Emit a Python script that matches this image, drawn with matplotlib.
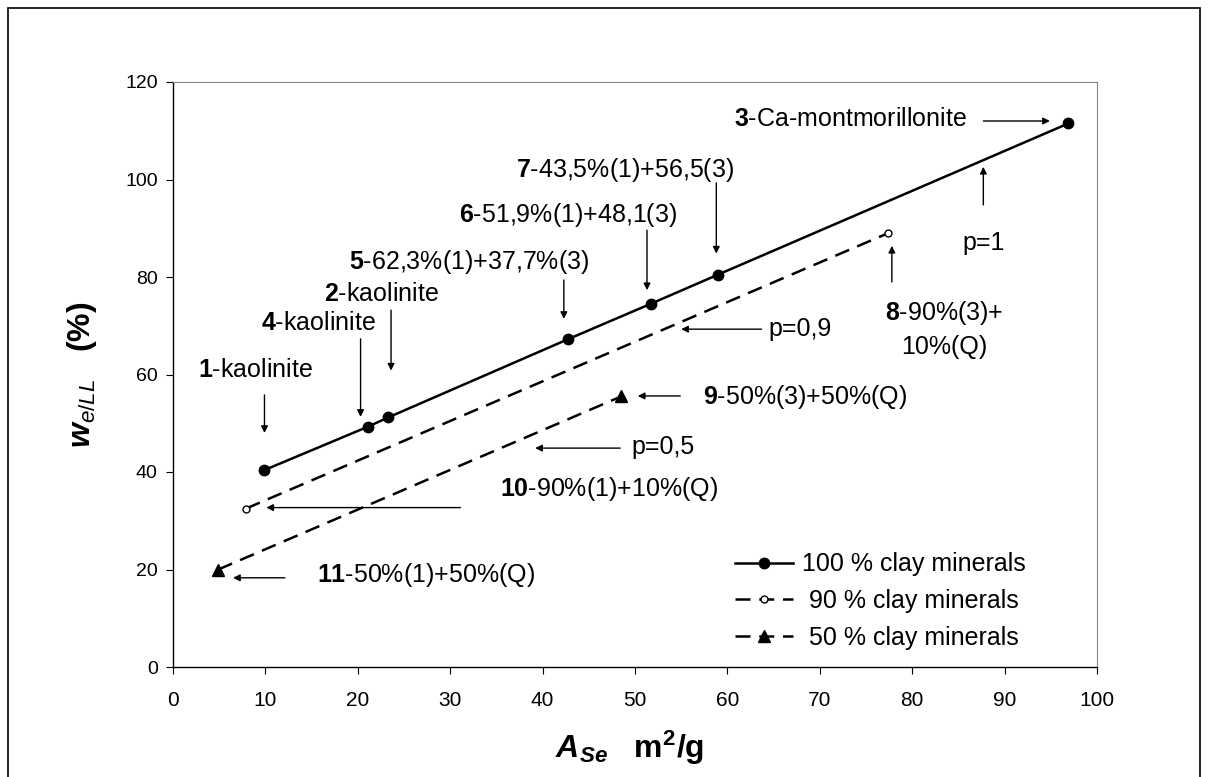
import matplotlib
matplotlib.use("Agg")
import matplotlib.pyplot as plt
from matplotlib.patches import Rectangle

plt.rcParams["font.family"] = ["Liberation Sans", "DejaVu Sans"]
plt.rcParams["mathtext.fontset"] = "custom"
plt.rcParams["mathtext.rm"] = "Liberation Sans"
plt.rcParams["mathtext.it"] = "Liberation Sans:italic"
plt.rcParams["mathtext.bf"] = "Liberation Sans:bold"
plt.rcParams["mathtext.bfit"] = "Liberation Sans:italic:bold"

# data
x_100 = [9.9, 21.1, 23.3, 42.7, 51.7, 59.0, 96.9]
y_100 = [40.4, 49.3, 51.2, 67.2, 74.5, 80.5, 111.5]
x_90 = [7.9, 77.4]
y_90 = [32.5, 89.0]
x_50 = [4.9, 48.5]
y_50 = [20.0, 55.5]
series_labels = ["100 % clay minerals", " 90 % clay minerals", " 50 % clay minerals"]

# annotation texts: (label, text x, text y, arrow start, arrow end)
notes = [
    (r"$\mathbf{1}$-kaolinite", 8.9, 60.9, (9.9, 55.8), (9.9, 48.0)),
    (r"$\mathbf{4}$-kaolinite", 15.7, 70.6, (20.3, 67.3), (20.3, 51.3)),
    (r"$\mathbf{2}$-kaolinite", 22.6, 76.5, (23.6, 73.2), (23.6, 60.8)),
    (r"$\mathbf{5}$-62,3%(1)+37,7%(3)", 32.1, 83.1, (42.3, 79.4), (42.3, 71.4)),
    (r"$\mathbf{6}$-51,9%(1)+48,1(3)", 42.7, 92.7, (51.3, 89.6), (51.3, 77.3)),
    (r"$\mathbf{7}$-43,5%(1)+56,5(3)", 48.9, 101.9, (58.8, 99.3), (58.8, 84.8)),
    (r"$\mathbf{3}$-Ca-montmorillonite", 73.3, 112.4, (87.7, 112.0), (94.9, 112.0)),
    ("p=1", 87.7, 87.0, (87.7, 94.8), (87.7, 102.6)),
    (r"$\mathbf{8}$-90%(3)+" + "\n" + "10%(Q)", 83.5, 69.3, (77.8, 79.0), (77.8, 86.4)),
    ("p=0,9", 67.9, 69.3, (63.7, 69.3), (55.0, 69.3)),
    (r"$\mathbf{9}$-50%(3)+50%(Q)", 68.4, 55.4, (54.9, 55.6), (50.3, 55.6)),
    ("p=0,5", 53.0, 45.1, (48.4, 44.9), (39.2, 44.9)),
    (r"$\mathbf{10}$-90%(1)+10%(Q)", 47.2, 36.5, (31.1, 32.7), (10.1, 32.7)),
    (r"$\mathbf{11}$-50%(1)+50%(Q)", 27.4, 18.9, (12.1, 18.3), (6.5, 18.3)),
]

fig = plt.figure(figsize=(12.10, 7.77), dpi=100)
fig.patches.append(Rectangle((8 / 1210, -0.01), 1192 / 1210, 1 - 8 / 777 + 0.01,
                             transform=fig.transFigure, fill=False,
                             edgecolor="black", linewidth=1.2))
ax = fig.add_axes([173 / 1210, 1 - 667 / 777, 924 / 1210, 585 / 777])

ax.plot(x_100, y_100, color="black", lw=1.8, marker="o", ms=7.5,
        label=series_labels[0])
ax.plot(x_90, y_90, color="black", lw=1.8, ls=(0, (6, 3.5)), marker="o", ms=5,
        mfc="white", mew=1.0, label=series_labels[1])
ax.plot(x_50, y_50, color="black", lw=1.8, ls=(0, (6, 3.5)), marker="^", ms=8,
        label=series_labels[2])

for txt, tx, ty, start, end in notes:
    ax.text(tx, ty, txt, fontsize=18, ha="center", va="center",
            multialignment="center", linespacing=1.45)
    ax.annotate("", xy=end, xytext=start,
                arrowprops=dict(arrowstyle="-|>", color="black", lw=1.0,
                                mutation_scale=10, shrinkA=0, shrinkB=0))

ax.set_xlim(0, 100)
ax.set_ylim(0, 120)
ax.set_xticks(range(0, 101, 10))
ax.set_yticks(range(0, 121, 20))
ax.tick_params(axis="x", direction="out", length=5, labelsize=15, pad=12)
ax.tick_params(axis="y", direction="out", length=5, labelsize=14, pad=6)
ax.spines["top"].set_color("#888888")
ax.spines["right"].set_color("#888888")
ax.spines["left"].set_linewidth(1.0)
ax.spines["bottom"].set_linewidth(1.0)

ax.set_xlabel(r"$\mathbfit{A}_{\mathbfit{Se}}$" + "   " + r"$\mathbf{m^2/g}$",
              fontsize=23)
ax.xaxis.set_label_coords((630 - 173) / 924, (667 - 748) / 585)
ax.xaxis.label.set_va("center")
ax.set_ylabel(r"$\mathbfit{w}_{\mathit{e/LL}}$" + "   " + r"$\mathbf{(\%)}$",
              fontsize=23)
ax.yaxis.set_label_coords((82 - 173) / 924, 0.5)
ax.yaxis.label.set_va("center")

ax.legend(loc="center left", bbox_to_anchor=((735 - 173) / 924, (667 - 601) / 585),
          frameon=False, fontsize=18, handlelength=2.3, handletextpad=0.4,
          labelspacing=0.5, borderpad=0, borderaxespad=0)

fig.savefig("out.png", dpi=100)
